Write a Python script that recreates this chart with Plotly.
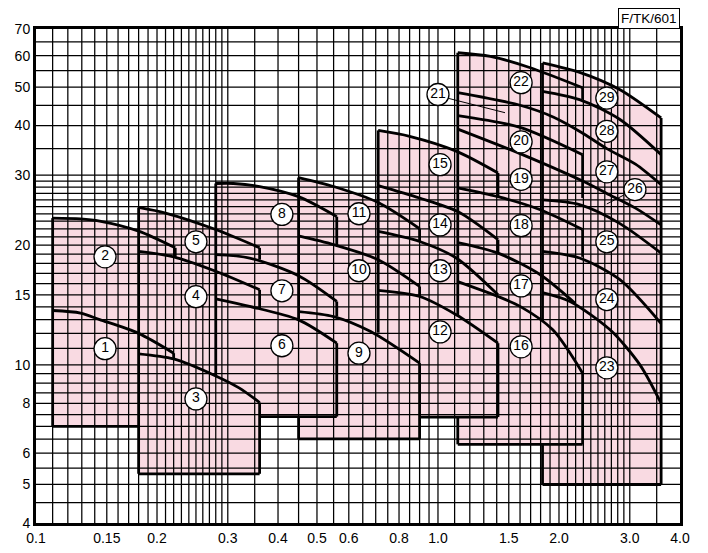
import math
import plotly.graph_objects as go

# ---------------- axes / grid ----------------
x_grid = [round(0.11 + 0.01 * i, 2) for i in range(20)] + \
         [0.35, 0.4, 0.45, 0.5, 0.55, 0.6, 0.65, 0.7, 0.75, 0.8, 0.85, 0.9, 0.95, 1.0] + \
         [round(1.1 + 0.1 * i, 1) for i in range(20)] + [3.5]
y_grid = [4.5, 5, 5.5, 6, 6.5, 7, 7.5, 8, 8.5, 9, 9.5] + list(range(10, 31)) + [35, 40, 45, 50, 55, 60, 65]

x_tick_vals = [0.1, 0.15, 0.2, 0.3, 0.4, 0.5, 0.6, 0.8, 1.0, 1.5, 2.0, 3.0, 4.0]
x_tick_text = ["0.1", "0.15", "0.2", "0.3", "0.4", "0.5", "0.6", "0.8", "1.0", "1.5", "2.0", "3.0", "4.0"]
y_tick_vals = [4, 5, 6, 8, 10, 15, 20, 30, 40, 50, 60, 70]
y_tick_text = ["4", "5", "6", "8", "10", "15", "20", "30", "40", "50", "60", "70"]

# ---------------- pump curves (Q, H) ----------------
c1_q = [0.11, 0.129, 0.144, 0.18, 0.22];   c1_h = [13.7, 13.5, 13.0, 12.0, 10.7]
c2_q = [0.11, 0.129, 0.144, 0.18, 0.222];  c2_h = [23.4, 23.3, 23.0, 21.7, 19.7]
c3_q = [0.18, 0.22, 0.28, 0.32, 0.36];     c3_h = [10.66, 10.35, 9.38, 8.75, 8.04]
c4_q = [0.18, 0.22, 0.28, 0.36];           c4_h = [19.3, 18.7, 17.2, 15.45]
c5_q = [0.18, 0.21, 0.28, 0.36];           c5_h = [24.9, 24.1, 21.9, 19.7]
c6_q = [0.28, 0.34, 0.45, 0.56];           c6_h = [14.66, 14.03, 12.98, 11.34]
c7_q = [0.28, 0.34, 0.45, 0.56];           c7_h = [18.93, 18.57, 16.76, 14.44]
c8_q = [0.28, 0.31, 0.36, 0.45, 0.56];     c8_h = [28.6, 28.6, 28.1, 26.5, 23.6]
c9_q = [0.45, 0.55, 0.68, 0.9];            c9_h = [13.62, 13.23, 12.13, 10.1]
c10_q = [0.45, 0.55, 0.71, 0.9];           c10_h = [21.1, 20.06, 18.39, 15.75]
c11_q = [0.45, 0.55, 0.71, 0.9];           c11_h = [29.6, 28.1, 25.6, 22.0]
c12_q = [0.71, 0.9, 1.11, 1.41];           c12_h = [15.39, 14.86, 13.37, 11.34]
c13_q = [0.71, 0.9, 1.11, 1.41];           c13_h = [21.66, 20.44, 18.57, 15.0]
c14_q = [0.71, 0.9, 1.12, 1.41];           c14_h = [28.26, 26.3, 24.3, 20.65]
c15_q = [0.71, 0.85, 1.11, 1.41];          c15_h = [38.9, 37.6, 34.5, 30.4]
c16_q = [1.12, 1.41, 1.6, 1.93, 2.29];     c16_h = [16.2, 14.86, 14.03, 12.25, 9.53]
c17_q = [1.12, 1.41, 1.79, 2.19];          c17_h = [20.3, 19.1, 16.9, 14.3]
c18_q = [1.12, 1.41, 1.79, 2.29];          c18_h = [27.9, 26.5, 24.6, 21.9]
# top of 19 (left block) continuing as top of 26 (right block)
c19_q = [1.12, 1.6, 2.29, 2.63, 3.1, 3.59]; c19_h = [39.2, 34.0, 29.0, 27.0, 24.8, 22.5]
c20_q = [1.12, 1.6, 2.29];                 c20_h = [42.4, 39.6, 33.8]
# top of 21 (left block) continuing as top of 27 (right block)
c21_q = [1.12, 1.6, 1.94, 2.27, 2.63, 3.1, 3.59]; c21_h = [48.4, 45.0, 42.0, 38.5, 35.0, 32.0, 28.4]
c22_q = [1.12, 1.35, 1.69, 2.29];          c22_h = [61.0, 59.7, 56.0, 49.8]
c23_q = [1.82, 2.13, 2.68, 3.18, 3.59];    c23_h = [15.2, 14.44, 12.25, 10.0, 8.0]
c24_q = [1.82, 2.25, 2.83, 3.59];          c24_h = [19.3, 18.57, 16.4, 12.7]
c25_q = [1.82, 2.25, 2.83, 3.59];          c25_h = [26.0, 25.3, 22.7, 19.1]
c28_q = [1.82, 2.25, 2.83, 3.59];          c28_h = [48.8, 46.5, 41.5, 33.8]
c29_q = [1.82, 2.27, 2.83, 3.59];          c29_h = [57.5, 54.3, 49.3, 41.8]

curves_q = [c1_q, c2_q, c3_q, c4_q, c5_q, c6_q, c7_q, c8_q, c9_q, c10_q, c11_q, c12_q, c13_q,
            c14_q, c15_q, c16_q, c17_q, c18_q, c19_q, c20_q, c21_q, c22_q, c23_q, c24_q,
            c25_q, c28_q, c29_q]
curves_h = [c1_h, c2_h, c3_h, c4_h, c5_h, c6_h, c7_h, c8_h, c9_h, c10_h, c11_h, c12_h, c13_h,
            c14_h, c15_h, c16_h, c17_h, c18_h, c19_h, c20_h, c21_h, c22_h, c23_h, c24_h,
            c25_h, c28_h, c29_h]

# ---------------- column frames ----------------
col_q_left = [0.11, 0.18, 0.28, 0.45, 0.71, 1.12, 1.82]
col_q_right = [0.222, 0.36, 0.56, 0.9, 1.41, 2.29, 3.59]
col_h_bottom = [7.0, 5.32, 7.41, 6.51, 7.39, 6.31, 5.0]
col_top_q = [c2_q, c5_q, c8_q, c11_q, c15_q, c22_q, c29_q]
col_top_h = [c2_h, c5_h, c8_h, c11_h, c15_h, c22_h, c29_h]

# visible parts of the bottom edges
bottom_q_from = [0.11, 0.18, 0.36, 0.45, 0.9, 1.12, 1.82]
bottom_q_to = [0.18, 0.36, 0.56, 0.9, 1.41, 2.29, 3.59]

# visible left-edge segments (q, h_low, h_high)
left_q = [0.11, 0.18, 0.28, 0.45, 0.45, 0.71, 1.12, 1.12, 1.82, 1.82]
left_h_low = [7.0, 5.32, 9.38, 12.98, 6.51, 12.05, 13.3, 6.31, 12.9, 5.0]
left_h_high = [23.4, 24.9, 28.6, 29.6, 7.41, 38.9, 61.0, 7.39, 57.5, 6.31]

# visible right-edge segments (q, h_top, h_bottom)
right_q = [0.222, 0.22, 0.36, 0.36, 0.36, 0.56, 0.56, 0.56, 0.9, 0.9, 0.9,
           1.41, 1.41, 1.41, 2.29, 2.29, 2.29, 2.29, 3.59]
right_h_top = [19.7, 10.7, 19.7, 15.45, 8.04, 23.6, 14.44, 11.34, 22.0, 15.75, 10.1,
               30.4, 20.65, 11.34, 49.8, 33.8, 21.9, 9.53, 41.8]
right_h_bot = [18.7, 10.35, 18.4, 13.9, 5.32, 20.0, 13.23, 7.41, 20.44, 14.86, 6.51,
               26.5, 19.1, 7.39, 46.5, 26.3, 18.7, 6.31, 5.0]

# ---------------- labels ----------------
label_text = [str(i) for i in range(1, 30)]
label_q = [0.1485, 0.1485, 0.25, 0.25, 0.25, 0.409, 0.409, 0.409, 0.636, 0.636, 0.636,
           1.012, 1.012, 1.012, 1.012, 1.61, 1.61, 1.61, 1.61, 1.61, 1.0, 1.61,
           2.63, 2.63, 2.63, 3.09, 2.63, 2.63, 2.63]
label_h = [10.98, 18.7, 8.21, 14.84, 20.4, 11.17, 15.36, 23.9, 10.7, 17.25, 24.0,
           12.1, 17.25, 22.5, 31.9, 11.1, 15.8, 22.4, 29.3, 36.4, 47.9, 51.3,
           9.83, 14.6, 20.4, 27.6, 30.6, 38.7, 46.9]

leader_q0 = [1.056, 2.91]; leader_h0 = [46.9, 26.8]
leader_q1 = [1.468, 2.63]; leader_h1 = [43.1, 25.4]

FILL = "#F9DAE2"
LW = 2.8
FONT = "Liberation Sans, Arial, sans-serif"

fig = go.Figure()

# pink fills (one polygon per column)
for i in range(len(col_q_left)):
    tq, th = col_top_q[i], col_top_h[i]
    xs = [col_q_left[i], col_q_left[i]] + tq + [col_q_right[i], col_q_right[i]]
    ys = [col_h_bottom[i], th[0]] + th + [th[-1], col_h_bottom[i]]
    fig.add_trace(go.Scatter(x=xs, y=ys, mode="lines", fill="toself", fillcolor=FILL,
                             line=dict(width=0, color=FILL), hoverinfo="skip", showlegend=False))

# grid lines (drawn above the fills)
gx, gy = [], []
for v in x_grid:
    gx += [v, v, None]
    gy += [4, 70, None]
fig.add_trace(go.Scatter(x=gx, y=gy, mode="lines", line=dict(color="black", width=1.25),
                         hoverinfo="skip", showlegend=False))
hx, hy = [], []
for v in y_grid:
    hx += [0.1, 4.0, None]
    hy += [v, v, None]
fig.add_trace(go.Scatter(x=hx, y=hy, mode="lines", line=dict(color="black", width=1.25),
                         hoverinfo="skip", showlegend=False))

# curves
for q, h in zip(curves_q, curves_h):
    fig.add_trace(go.Scatter(x=q, y=h, mode="lines", line=dict(color="black", width=LW, shape="spline",
                             smoothing=0.8), hoverinfo="skip", showlegend=False))

# straight frame segments
sx, sy = [], []
for q, a, b in zip(left_q, left_h_low, left_h_high):
    sx += [q, q, None]; sy += [a, b, None]
for q, a, b in zip(right_q, right_h_top, right_h_bot):
    sx += [q, q, None]; sy += [a, b, None]
for i in range(len(col_q_left)):
    sx += [bottom_q_from[i], bottom_q_to[i], None]; sy += [col_h_bottom[i], col_h_bottom[i], None]
fig.add_trace(go.Scatter(x=sx, y=sy, mode="lines", line=dict(color="black", width=LW),
                         hoverinfo="skip", showlegend=False))

# leader lines
for a, b, c, d in zip(leader_q0, leader_h0, leader_q1, leader_h1):
    fig.add_trace(go.Scatter(x=[a, c], y=[b, d], mode="lines", line=dict(color="black", width=1),
                             hoverinfo="skip", showlegend=False))

# circled labels
fig.add_trace(go.Scatter(x=label_q, y=label_h, mode="markers+text", text=label_text,
                         textposition="middle center",
                         textfont=dict(family=FONT, size=14, color="black"),
                         marker=dict(size=22, color="white", line=dict(color="black", width=1.3)),
                         hoverinfo="skip", showlegend=False))

axis_common = dict(type="log", showgrid=False, zeroline=False, showline=True, mirror=True,
                   linewidth=3, linecolor="black", ticks="", automargin=False,
                   tickfont=dict(family=FONT, size=14, color="black"))
# the page body adds an 8 px offset, so the figure is 8 px smaller and margins shifted
fig.update_layout(
    width=700, height=545,
    margin=dict(l=28, r=28, t=21, b=30),
    paper_bgcolor="white", plot_bgcolor="white",
    xaxis=dict(range=[math.log10(0.1), math.log10(4.0)], tickvals=x_tick_vals, ticktext=x_tick_text,
               **axis_common),
    yaxis=dict(range=[math.log10(4), math.log10(70)], tickvals=y_tick_vals, ticktext=y_tick_text,
               **axis_common),
    annotations=[dict(text="F/TK/601", xref="paper", yref="paper", x=1, y=1, xanchor="right",
                      yanchor="bottom", showarrow=False, bordercolor="black", borderwidth=1,
                      borderpad=2, bgcolor="white",
                      font=dict(family=FONT, size=13.5, color="black"))],
)

fig.write_html("out.html")
